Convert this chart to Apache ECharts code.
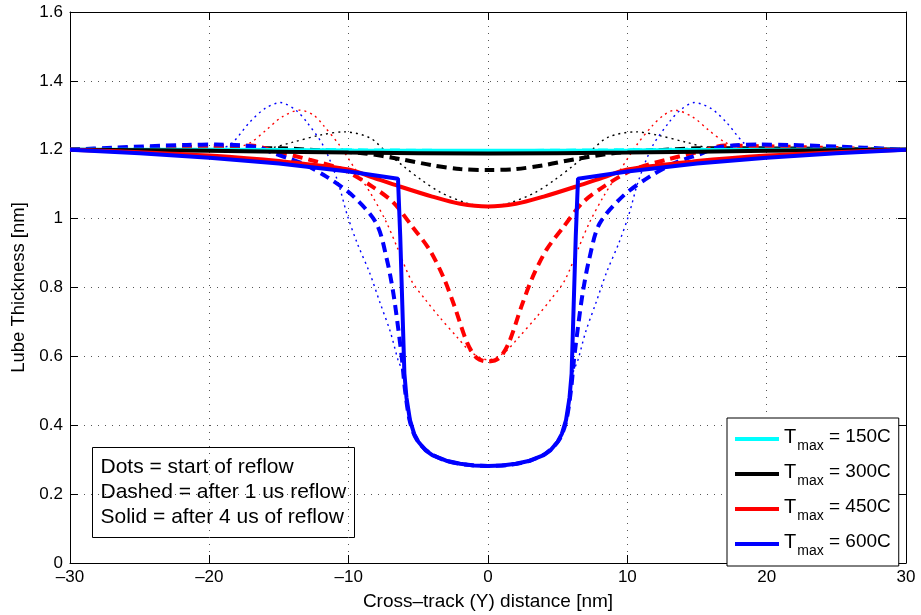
<!DOCTYPE html>
<html>
<head>
<meta charset="utf-8">
<script src="https://cdn.jsdelivr.net/npm/echarts@6/dist/echarts.min.js"></script>
<style>
  html, body { margin: 0; padding: 0; background: #fff; }
  #chart { width: 921px; height: 615px; }
</style>
</head>
<body>
<div id="chart"></div>
<script>
// tick labels
const xTicks = [-30, -20, -10, 0, 10, 20, 30];
const yTicks = [0, 0.2, 0.4, 0.6, 0.8, 1, 1.2, 1.4, 1.6];

// legend names
const legendNames = ["T150", "T300", "T450", "T600"];
const legendTemps = ["150C", "300C", "450C", "600C"];

// Tmax = 150C (cyan)
const cyanDot = [[-30, 1.2], [-20, 1.2], [-12, 1.202], [-8, 1.2], [0, 1.197], [8, 1.2], [12, 1.202], [20, 1.2], [30, 1.2]];
const cyanDash = [[-30, 1.2], [-15, 1.2], [-8, 1.198], [0, 1.196], [8, 1.198], [15, 1.2], [30, 1.2]];
const cyanSolid = [[-30, 1.2], [-20, 1.2], [-10, 1.198], [0, 1.197], [10, 1.198], [20, 1.2], [30, 1.2]];

// Tmax = 300C (black)
const blackDot = [[-30, 1.2], [-20, 1.2], [-16, 1.203], [-14, 1.222], [-12, 1.243], [-10.3, 1.252], [-8.5, 1.235], [-7.2, 1.19], [-6, 1.15], [-4.8, 1.113], [-3.4, 1.076], [-1.5, 1.045], [0, 1.036],
  [1.5, 1.045], [3.4, 1.076], [4.8, 1.113], [6, 1.15], [7.2, 1.19], [8.6, 1.236], [10.6, 1.252], [12.2, 1.242], [14.2, 1.222], [16.2, 1.203], [20, 1.2], [30, 1.2]];
const blackDash = [[-30, 1.2], [-20, 1.204], [-15, 1.204], [-12, 1.198], [-9, 1.19], [-6.3, 1.173], [-4, 1.155], [-2, 1.144], [0, 1.141],
  [2, 1.144], [4, 1.155], [6.3, 1.173], [9, 1.19], [12, 1.198], [15, 1.204], [20, 1.204], [30, 1.2]];
const blackSolid = [[-30, 1.2], [-20, 1.197], [-10, 1.192], [0, 1.189], [10, 1.192], [20, 1.197], [30, 1.2]];

// Tmax = 450C (red)
const redDot = [[-30, 1.2], [-20, 1.201], [-18, 1.207], [-17, 1.222], [-15.9, 1.258], [-14.8, 1.295], [-13.5, 1.315], [-12.5, 1.3], [-11.8, 1.27], [-10.6, 1.21], [-9.4, 1.135], [-8.3, 1.065], [-7.3, 0.99], [-6.5, 0.915], [-5.5, 0.82], [-4.5, 0.765], [-3.5, 0.715], [-2.2, 0.655], [-1.2, 0.612], [0, 0.59],
  [1.2, 0.612], [2.2, 0.655], [3.5, 0.715], [4.5, 0.765], [5.5, 0.82], [6.5, 0.915], [7.3, 0.99], [8.3, 1.065], [9.4, 1.135], [10.6, 1.21], [11.8, 1.27], [12.6, 1.3], [13.4, 1.315], [14.7, 1.295], [15.8, 1.258], [17, 1.222], [18, 1.207], [20, 1.201], [30, 1.2]];
const redDash = [[-30, 1.2], [-25, 1.205], [-20, 1.21], [-17, 1.212], [-15.4, 1.197], [-12.8, 1.171], [-10.4, 1.142], [-8.3, 1.093], [-6.8, 1.047], [-5.4, 0.975], [-4.2, 0.91], [-3.2, 0.83], [-2.4, 0.745], [-1.5, 0.64], [-0.8, 0.595], [0, 0.585],
  [0.8, 0.595], [1.5, 0.64], [2.4, 0.745], [3.2, 0.83], [4.2, 0.91], [5.4, 0.975], [6.8, 1.047], [8.3, 1.093], [10.4, 1.142], [12.8, 1.171], [15.4, 1.197], [17, 1.212], [20, 1.21], [25, 1.205], [30, 1.2]];
const redSolid = [[-30, 1.2], [-25, 1.193], [-20, 1.183], [-15, 1.167], [-10, 1.143], [-8.3, 1.12], [-6.3, 1.093], [-4, 1.064], [-2, 1.043], [0, 1.035],
  [2, 1.043], [4, 1.064], [6.3, 1.093], [8.3, 1.12], [10, 1.143], [15, 1.167], [20, 1.183], [25, 1.193], [30, 1.2]];

// Tmax = 600C (blue)
const blueDot = [[-30, 1.2], [-20, 1.2], [-19, 1.205], [-18.3, 1.222], [-17.1, 1.28], [-16, 1.32], [-14.9, 1.337], [-13.8, 1.315], [-13, 1.28], [-11.8, 1.21], [-10.8, 1.11], [-10.1, 1.01], [-9.4, 0.93], [-8.5, 0.843], [-7.75, 0.756], [-7, 0.67], [-6.46, 0.59], [-6.1, 0.552], [-5.9, 0.5], [-5.6, 0.41], [-5.1, 0.357], [-4.2, 0.32], [-3, 0.297], [-1.5, 0.285], [0, 0.282],
  [1.5, 0.285], [3, 0.297], [4.2, 0.32], [5.1, 0.357], [5.6, 0.41], [5.9, 0.5], [6.1, 0.552], [6.46, 0.59], [7, 0.67], [7.75, 0.756], [8.5, 0.843], [9.4, 0.93], [10.1, 1.01], [10.8, 1.11], [11.8, 1.21], [13, 1.28], [13.8, 1.315], [14.8, 1.337], [16, 1.32], [17.1, 1.28], [18.3, 1.222], [19, 1.205], [20, 1.2], [30, 1.2]];
const blueDash = [[-30, 1.2], [-27, 1.206], [-21.6, 1.214], [-19.5, 1.215], [-17.8, 1.213], [-16.4, 1.206], [-15.4, 1.19], [-14.1, 1.172], [-13.3, 1.16], [-11.6, 1.122], [-9.7, 1.066], [-8, 0.985], [-7.25, 0.88], [-6.8, 0.785], [-6.46, 0.686], [-6.17, 0.59], [-5.95, 0.5], [-5.6, 0.41], [-5.1, 0.357], [-4.2, 0.32], [-3, 0.297], [-1.5, 0.285], [0, 0.282],
  [1.5, 0.285], [3, 0.297], [4.2, 0.32], [5.1, 0.357], [5.6, 0.41], [5.95, 0.5], [6.17, 0.59], [6.46, 0.686], [6.8, 0.785], [7.25, 0.88], [8, 0.985], [9.7, 1.066], [11.6, 1.122], [13.3, 1.16], [14.1, 1.172], [15.4, 1.19], [16.4, 1.206], [17.8, 1.213], [19.5, 1.215], [21.6, 1.214], [27, 1.206], [30, 1.2]];
const blueSolid = [[-30, 1.2], [-25, 1.19], [-20, 1.177], [-15, 1.16], [-10, 1.137], [-6.46, 1.116], [-6.3, 0.95], [-6.15, 0.75], [-6.0, 0.55], [-5.85, 0.48], [-5.6, 0.415], [-5.3, 0.375], [-5.0, 0.352], [-4.5, 0.328], [-4.0, 0.313], [-3.0, 0.297], [-2.0, 0.288], [-1.0, 0.283], [0, 0.282],
  [1.0, 0.283], [2.0, 0.288], [3.0, 0.297], [4.0, 0.313], [4.5, 0.328], [5.0, 0.352], [5.3, 0.375], [5.6, 0.415], [5.85, 0.48], [6.0, 0.55], [6.15, 0.75], [6.3, 0.95], [6.46, 1.116], [10, 1.137], [15, 1.16], [20, 1.177], [25, 1.19], [30, 1.2]];

const colors = { cyan: "#00ffff", black: "#000000", red: "#ff0000", blue: "#0000ff" };

function dotted(name, data, color) {
  return { name: name, type: "line", data: data, smooth: 0.3, showSymbol: false, silent: true,
    lineStyle: { color: color, width: 1.4, type: [2, 4] }, itemStyle: { color: color } };
}
function dashed(name, data, color) {
  return { name: name, type: "line", data: data, smooth: 0.3, showSymbol: false, silent: true,
    lineStyle: { color: color, width: 4, type: [10, 6] }, itemStyle: { color: color } };
}
function solid(name, data, color, smooth) {
  return { name: name, type: "line", data: data, smooth: smooth, showSymbol: false, silent: true,
    lineStyle: { color: color, width: 4 }, itemStyle: { color: color } };
}

let myChart = echarts.init(document.getElementById("chart"), null, { renderer: "canvas" });
const font = "Liberation Sans";

let option = {
  animation: false,
  textStyle: { fontFamily: font },
  grid: { left: 70, right: 15, top: 12, bottom: 52, outerBoundsMode: "none", containLabel: false },
  xAxis: [
    {
      type: "value", min: xTicks[0], max: xTicks[xTicks.length - 1], interval: 10,
      name: "Cross\u2013track (Y) distance [nm]", nameLocation: "middle", nameGap: 29,
      nameTextStyle: { color: "#000", fontSize: 19, fontFamily: font },
      axisLine: { show: true, onZero: false, lineStyle: { color: "#000", width: 1 } },
      axisTick: { show: true, inside: true, length: 8, lineStyle: { color: "#000" } },
      axisLabel: { color: "#000", fontSize: 17, fontFamily: font, margin: 6,
        formatter: v => String(v).replace("-", "\u2013") },
      splitLine: { show: true, lineStyle: { color: "#555", width: 1, type: [1, 6] } }
    },
    {
      type: "value", position: "top", min: -30, max: 30, interval: 10,
      axisLine: { show: true, onZero: false, lineStyle: { color: "#000", width: 1 } },
      axisTick: { show: true, inside: true, length: 8, lineStyle: { color: "#000" } },
      axisLabel: { show: false }, splitLine: { show: false }
    }
  ],
  yAxis: [
    {
      type: "value", min: yTicks[0], max: yTicks[yTicks.length - 1], interval: 0.2,
      name: "Lube Thickness [nm]", nameLocation: "middle", nameGap: 42,
      nameTextStyle: { color: "#000", fontSize: 18.5, fontFamily: font },
      axisLine: { show: true, onZero: false, lineStyle: { color: "#000", width: 1 } },
      axisTick: { show: true, inside: true, length: 8, lineStyle: { color: "#000" } },
      axisLabel: { color: "#000", fontSize: 17, fontFamily: font, margin: 7 },
      splitLine: { show: true, lineStyle: { color: "#555", width: 1, type: [1, 6] } }
    },
    {
      type: "value", position: "right", min: 0, max: 1.6, interval: 0.2,
      axisLine: { show: true, onZero: false, lineStyle: { color: "#000", width: 1 } },
      axisTick: { show: true, inside: true, length: 8, lineStyle: { color: "#000" } },
      axisLabel: { show: false }, splitLine: { show: false }
    }
  ],
  legend: {
    data: legendNames, orient: "vertical", left: 727, top: 418, width: 174,
    backgroundColor: "#fff", borderColor: "#000", borderWidth: 1,
    padding: [9, 8, 8, 8], itemGap: 9, itemWidth: 44, itemHeight: 4, icon: "rect",
    formatter: name => "{t|T}{s|max}{e| = " + legendTemps[legendNames.indexOf(name)] + "}",
    textStyle: {
      color: "#000",
      rich: {
        t: { fontSize: 20, fontFamily: font, color: "#000", verticalAlign: "top", lineHeight: 24 },
        s: { fontSize: 14, fontFamily: font, color: "#000", padding: [12, 0, 0, 1], verticalAlign: "top", lineHeight: 24 },
        e: { fontSize: 19, fontFamily: font, color: "#000", verticalAlign: "top", lineHeight: 24 }
      }
    }
  },
  graphic: [
    {
      type: "group", left: 92, top: 447,
      children: [
        { type: "rect", shape: { x: 0, y: 0, width: 262, height: 90 }, style: { fill: "#fff", stroke: "#000", lineWidth: 1 } },
        { type: "text", x: 8, y: 7, style: { text: "Dots = start of reflow\nDashed = after 1 us reflow\nSolid = after 4 us of reflow",
          font: "21px Liberation Sans", fill: "#000", lineHeight: 25 } }
      ]
    }
  ],
  series: [
    dotted("c-dot", cyanDot, colors.cyan),
    dotted("k-dot", blackDot, colors.black),
    dotted("r-dot", redDot, colors.red),
    dotted("b-dot", blueDot, colors.blue),
    dashed("c-dash", cyanDash, colors.cyan),
    dashed("k-dash", blackDash, colors.black),
    dashed("r-dash", redDash, colors.red),
    dashed("b-dash", blueDash, colors.blue),
    solid("T150", cyanSolid, colors.cyan, 0.3),
    solid("T300", blackSolid, colors.black, 0.3),
    solid("T450", redSolid, colors.red, 0.3),
    solid("T600", blueSolid, colors.blue, false)
  ]
};

myChart.setOption(option);
</script>
</body>
</html>
